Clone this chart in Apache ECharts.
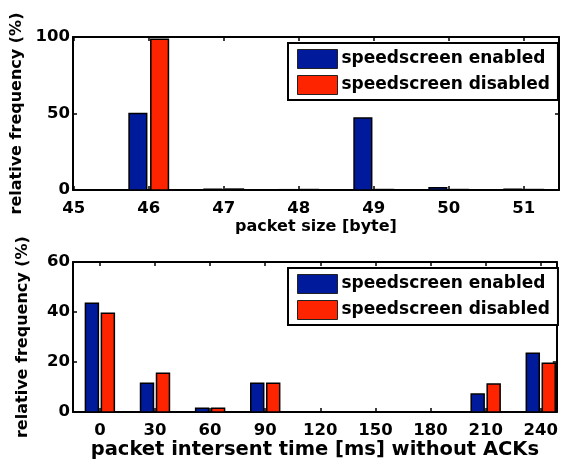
<!DOCTYPE html>
<html><head><meta charset="utf-8">
<script src="https://cdn.jsdelivr.net/npm/echarts@6/dist/echarts.min.js"></script>
<style>html,body{margin:0;padding:0;background:#fff}#c{width:561px;height:461px}</style>
</head><body><div id="c"></div>
<script>
var packetSizes = [46, 47, 48, 49, 50, 51];
var sizeEnabled = [50, 0.5, 0.2, 47, 1.5, 0.5];
var sizeDisabled = [98.5, 0.6, 0.3, 0.3, 0.3, 0.3];
var sizeTicks = [45, 46, 47, 48, 49, 50, 51];
var sizeYTicks = [0, 50, 100];

var intersentTimes = [0, 30, 60, 90, 120, 150, 180, 210, 240];
var timeEnabled = [43.5, 11.5, 1.5, 11.5, 0, 0, 0, 7.2, 23.5];
var timeDisabled = [39.5, 15.5, 1.5, 11.5, 0, 0, 0, 11.2, 19.5];
var timeTicks = [0, 30, 60, 90, 120, 150, 180, 210, 240];
var timeYTicks = [0, 20, 40, 60];

var seriesNames = ['speedscreen enabled', 'speedscreen disabled'];
var BLUE = '#001a9c', RED = '#ff2400';
var FONT = 'DejaVu Sans';

function pairs(xs, ys) { return xs.map(function (x, i) { return [x, ys[i]]; }); }

function makeRender(offsetFrac, widthFrac, spacing) {
  return function (params, api) {
    var x = api.value(0), y = api.value(1);
    var base = api.coord([x, 0]);
    var top = api.coord([x, y]);
    var sp = api.size([spacing, 0])[0];
    var w = sp * widthFrac;
    var cx = base[0] + sp * offsetFrac;
    var cs = params.coordSys;
    var rect = { x: cx - w / 2, y: top[1], width: w, height: base[1] - top[1] };
    var clipped = echarts.graphic.clipRectByRect(rect, { x: cs.x, y: cs.y, width: cs.width + 1, height: cs.height });
    if (!clipped) { return; }
    return { type: 'rect', shape: clipped, style: { fill: api.visual('color'), stroke: '#000', lineWidth: 1.5 } };
  };
}

var lbl = { fontFamily: FONT, fontWeight: 'bold', fontSize: 16.5, color: '#000' };
var axLine = { show: true, onZero: false, lineStyle: { color: '#000', width: 2 } };

function xAxisMain(gi, min, max, ticks, name, nameSize, nameGap) {
  return {
    type: 'value', gridIndex: gi, min: min, max: max, position: 'bottom',
    axisLine: axLine, splitLine: { show: false },
    axisTick: { show: true, inside: true, length: 4, customValues: ticks, lineStyle: { color: '#000', width: 1.5 } },
    axisLabel: Object.assign({ margin: 10, customValues: ticks }, lbl),
    name: name, nameLocation: 'middle', nameGap: nameGap,
    nameTextStyle: { fontFamily: FONT, fontWeight: 'bold', fontSize: nameSize, color: '#000' }
  };
}
function xAxisMirror(gi, min, max, ticks) {
  return {
    type: 'value', gridIndex: gi, min: min, max: max, position: 'top',
    axisLine: axLine, splitLine: { show: false },
    axisTick: { show: true, inside: true, length: 4, customValues: ticks, lineStyle: { color: '#000', width: 1.5 } },
    axisLabel: { show: false }
  };
}
function yAxisMain(gi, max, ticks, nameGap) {
  return {
    type: 'value', gridIndex: gi, min: 0, max: max, position: 'left',
    axisLine: axLine, splitLine: { show: false },
    axisTick: { show: true, inside: true, length: 4, customValues: ticks, lineStyle: { color: '#000', width: 1.5 } },
    axisLabel: Object.assign({ margin: 3, customValues: ticks }, lbl, { fontSize: 16.5 }),
    name: 'relative frequency (%)', nameLocation: 'middle', nameRotate: 90, nameGap: nameGap,
    nameTextStyle: { fontFamily: FONT, fontWeight: 'bold', fontSize: 16, color: '#000' }
  };
}
function yAxisMirror(gi, max, ticks) {
  return {
    type: 'value', gridIndex: gi, min: 0, max: max, position: 'right',
    axisLine: axLine, splitLine: { show: false },
    axisTick: { show: true, inside: true, length: 4, customValues: ticks, lineStyle: { color: '#000', width: 1.5 } },
    axisLabel: { show: false }
  };
}
function legendAt(top) {
  return {
    orient: 'vertical', left: 288, top: top,
    data: seriesNames, icon: 'rect', itemWidth: 40, itemHeight: 19, itemGap: 6,
    padding: [6, 8, 5, 9], borderColor: '#000', borderWidth: 2, backgroundColor: '#fff',
    itemStyle: { borderColor: '#222', borderWidth: 1 },
    textStyle: { fontFamily: FONT, fontWeight: 'bold', fontSize: 17, color: '#000', padding: [0, 0, 0, -1] },
    selectedMode: false
  };
}

var chart = echarts.init(document.getElementById('c'), null, { renderer: 'canvas' });
chart.setOption({
  animation: false,
  backgroundColor: '#fff',
  grid: [
    { left: 73, top: 37, right: 2, height: 153 },
    { left: 73, top: 262, right: 2, height: 151 }
  ],
  xAxis: [
    xAxisMain(0, 44.99, 51.47, sizeTicks, 'packet size [byte]', 16, 29),
    xAxisMain(1, -14.63, 248.7, timeTicks, 'packet intersent time [ms] without ACKs', 19.5, 25),
    xAxisMirror(0, 44.99, 51.47, sizeTicks),
    xAxisMirror(1, -14.63, 248.7, timeTicks)
  ],
  yAxis: [
    yAxisMain(0, 100, sizeYTicks, 45),
    yAxisMain(1, 60, timeYTicks, 42),
    yAxisMirror(0, 100, sizeYTicks),
    yAxisMirror(1, 60, timeYTicks)
  ],
  legend: [legendAt(43), legendAt(268)],
  series: [
    { name: seriesNames[0], type: 'custom', xAxisIndex: 0, yAxisIndex: 0, itemStyle: { color: BLUE },
      renderItem: makeRender(-0.145, 0.235, 1), encode: { x: 0, y: 1 }, data: pairs(packetSizes, sizeEnabled), z: 1 },
    { name: seriesNames[1], type: 'custom', xAxisIndex: 0, yAxisIndex: 0, itemStyle: { color: RED },
      renderItem: makeRender(0.145, 0.235, 1), encode: { x: 0, y: 1 }, data: pairs(packetSizes, sizeDisabled), z: 1 },
    { name: seriesNames[0], type: 'custom', xAxisIndex: 1, yAxisIndex: 1, itemStyle: { color: BLUE },
      renderItem: makeRender(-0.145, 0.235, 30), encode: { x: 0, y: 1 }, data: pairs(intersentTimes, timeEnabled), z: 1 },
    { name: seriesNames[1], type: 'custom', xAxisIndex: 1, yAxisIndex: 1, itemStyle: { color: RED },
      renderItem: makeRender(0.145, 0.235, 30), encode: { x: 0, y: 1 }, data: pairs(intersentTimes, timeDisabled), z: 1 }
  ]
});
</script></body></html>
